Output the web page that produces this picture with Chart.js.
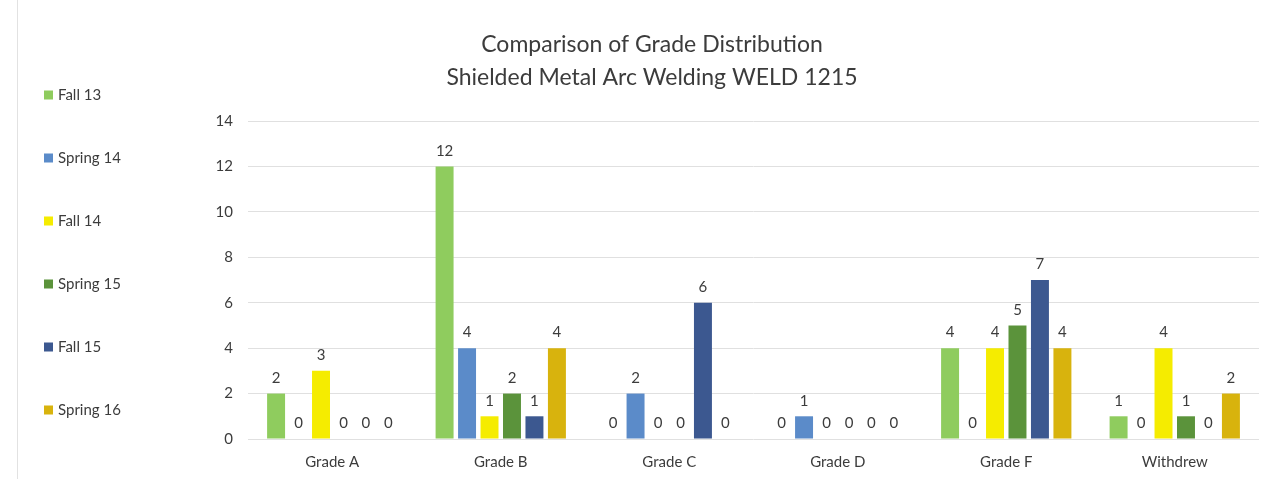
<!DOCTYPE html>
<html>
<head>
<meta charset="utf-8">
<script src="https://cdn.jsdelivr.net/npm/chart.js@4"></script>
<style>
  html, body { margin: 0; padding: 0; background: #ffffff; }
  #wrap { width: 1269px; height: 479px; position: relative; }
</style>
</head>
<body>
<div id="wrap"><canvas id="chart" width="1269" height="479"></canvas></div>
<script>
// Grade counts per term
const categories = ['Grade A', 'Grade B', 'Grade C', 'Grade D', 'Grade F', 'Withdrew'];
const fall13   = [2, 12, 0, 0, 4, 1];
const spring14 = [0, 4, 2, 1, 0, 0];
const fall14   = [3, 1, 0, 0, 4, 4];
const spring15 = [0, 2, 0, 0, 5, 1];
const fall15   = [0, 1, 6, 0, 7, 0];
const spring16 = [0, 4, 0, 0, 4, 2];
const seriesNames = ['Fall 13', 'Spring 14', 'Fall 14', 'Spring 15', 'Fall 15', 'Spring 16'];
const yTicks = [0, 2, 4, 6, 8, 10, 12, 14];
const titleLines = ['Comparison of Grade Distribution', 'Shielded Metal Arc Welding WELD 1215'];

const colors = ['#8fcc5e', '#5b8bc9', '#f5ec00', '#5b933b', '#3c5890', '#d8b30d'];
const FONT = 'Lato, "Open Sans", sans-serif';
const TEXT = '#3c3c3c';

const seriesValues = [fall13, spring14, fall14, spring15, fall15, spring16];
const datasets = seriesValues.map((vals, i) => ({
  label: seriesNames[i],
  data: vals,
  backgroundColor: colors[i],
  borderWidth: 0,
  categoryPercentage: 0.8,
  barPercentage: 0.8
}));

// Two-line heading drawn centred over the plot
const headingPlugin = {
  id: 'heading',
  afterDraw(chart, args, opts) {
    const ctx = chart.ctx;
    ctx.save();
    ctx.fillStyle = TEXT;
    ctx.font = '23px ' + FONT;
    ctx.textAlign = 'center';
    ctx.textBaseline = 'middle';
    opts.lines.forEach((line, i) => ctx.fillText(line, opts.x, opts.y + i * opts.lineGap));
    ctx.restore();
  }
};

// Vertical key down the left edge
const sideKeyPlugin = {
  id: 'sideKey',
  afterDraw(chart, args, opts) {
    const ctx = chart.ctx;
    ctx.save();
    ctx.font = '15px ' + FONT;
    ctx.textBaseline = 'middle';
    ctx.textAlign = 'left';
    chart.data.datasets.forEach((ds, i) => {
      const y = opts.y + i * opts.gap;
      ctx.fillStyle = ds.backgroundColor;
      ctx.fillRect(opts.x, y - 4.5, 9, 9);
      ctx.fillStyle = TEXT;
      ctx.fillText(ds.label, opts.x + 14, y);
    });
    // faint frame edge on the left
    ctx.strokeStyle = '#e2e2e2';
    ctx.lineWidth = 1;
    ctx.beginPath();
    ctx.moveTo(17.5, 0);
    ctx.lineTo(17.5, chart.height);
    ctx.stroke();
    ctx.restore();
  }
};

// Value labels above each bar
const valueLabelPlugin = {
  id: 'valueLabels',
  afterDatasetsDraw(chart) {
    const ctx = chart.ctx;
    ctx.save();
    ctx.font = '15px ' + FONT;
    ctx.fillStyle = TEXT;
    ctx.textAlign = 'center';
    ctx.textBaseline = 'bottom';
    chart.data.datasets.forEach((ds, di) => {
      const meta = chart.getDatasetMeta(di);
      meta.data.forEach((bar, idx) => {
        ctx.fillText(String(ds.data[idx]), bar.x, bar.y - 8);
      });
    });
    ctx.restore();
  }
};

new Chart(document.getElementById('chart'), {
  type: 'bar',
  data: { labels: categories, datasets },
  plugins: [headingPlugin, sideKeyPlugin, valueLabelPlugin],
  options: {
    responsive: false,
    animation: false,
    layout: { padding: { left: 208, right: 10, top: 121, bottom: 0 } },
    plugins: {
      legend: { display: false },
      title: { display: false },
      tooltip: { enabled: false },
      heading: { lines: titleLines, x: 652, y: 45, lineGap: 33 },
      sideKey: { x: 44, y: 95, gap: 63 }
    },
    scales: {
      x: {
        grid: { display: false, drawTicks: false },
        border: { display: false },
        ticks: { color: TEXT, font: { family: FONT, size: 15 }, padding: 14 },
        afterFit(scale) { scale.height = 40; }
      },
      y: {
        min: 0,
        max: 14,
        afterBuildTicks(scale) { scale.ticks = yTicks.map(v => ({ value: v })); },
        grid: { color: '#e0e0e0', drawTicks: false },
        border: { display: false },
        ticks: { color: TEXT, font: { family: FONT, size: 15 }, padding: 15 },
        afterFit(scale) { scale.width = 40; }
      }
    }
  }
});
</script>
</body>
</html>
